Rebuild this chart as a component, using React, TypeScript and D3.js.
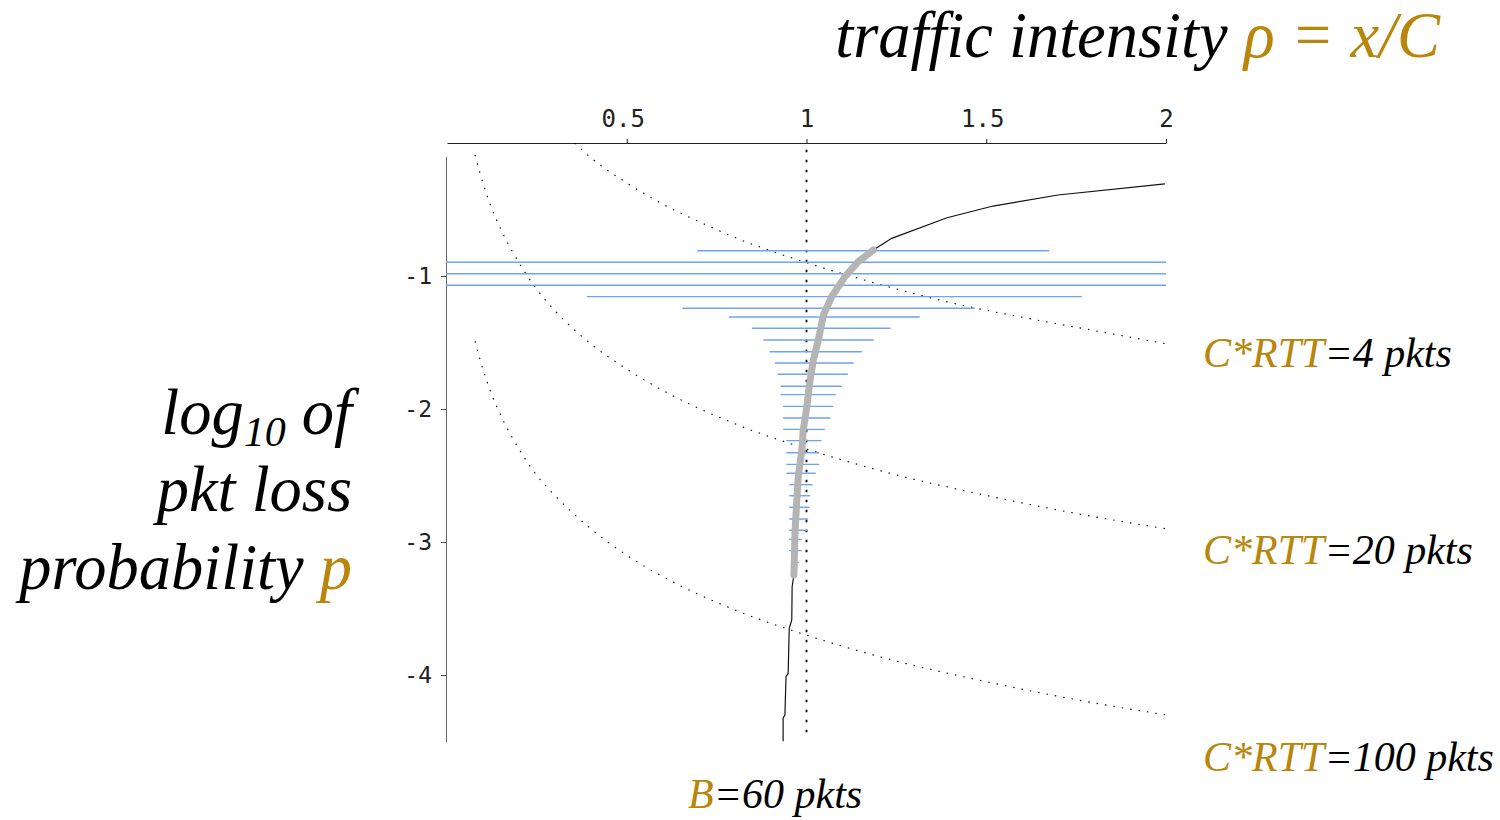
import React, { useEffect, useRef } from 'react'
import * as d3 from 'd3'

// axis ticks
const xTicks = [0.5, 1, 1.5, 2]
const yTicks = [-1, -2, -3, -4]

// dotted model curves, [rho, log10 p]
const curveCrtt4 = [
  [0.355, 0], [0.4, -0.11], [0.5, -0.3], [0.6, -0.46], [0.7, -0.59], [0.8, -0.71],
  [0.9, -0.81], [1.0, -0.9], [1.2, -1.06], [1.4, -1.2], [1.6, -1.31], [1.8, -1.41], [2.0, -1.51]
]
const curveCrtt20 = [
  [0.078, -0.09], [0.09, -0.21], [0.1, -0.3], [0.12, -0.46], [0.15, -0.65], [0.2, -0.9],
  [0.25, -1.1], [0.3, -1.26], [0.4, -1.51], [0.5, -1.7], [0.6, -1.86], [0.8, -2.11],
  [1.0, -2.3], [1.2, -2.46], [1.5, -2.65], [1.8, -2.81], [2.0, -2.9]
]
const curveCrtt100 = [
  [0.078, -1.49], [0.09, -1.61], [0.1, -1.7], [0.12, -1.86], [0.15, -2.05], [0.2, -2.3],
  [0.25, -2.5], [0.3, -2.65], [0.4, -2.9], [0.5, -3.1], [0.6, -3.26], [0.8, -3.51],
  [1.0, -3.7], [1.2, -3.86], [1.5, -4.05], [1.8, -4.21], [2.0, -4.3]
]

// simulated loss curve (thin black), [rho, log10 p]
const simCurve = [
  [1.997, -0.308], [1.7, -0.391], [1.519, -0.474], [1.391, -0.562], [1.237, -0.717],
  [1.186, -0.805], [1.144, -0.892], [1.107, -1.005], [1.07, -1.156], [1.047, -1.293],
  [1.033, -1.481], [1.019, -1.632], [1.01, -1.782], [1.001, -1.983], [0.991, -2.158],
  [0.987, -2.308], [0.977, -2.509], [0.973, -2.684], [0.968, -2.932], [0.965, -3.248],
  [0.96, -3.336], [0.959, -3.586], [0.952, -3.649], [0.949, -3.987], [0.943, -4.013],
  [0.94, -4.301], [0.935, -4.323], [0.935, -4.5]
]
// part of the simulated curve that is averaged (thick gray)
const meanRange = [-0.805, -3.248]

// horizontal spread bars
const barLogP = [
  -0.81, -0.897, -0.983, -1.07, -1.155, -1.243, -1.308, -1.393, -1.481, -1.569,
  -1.654, -1.739, -1.829, -1.892, -1.98, -2.068, -2.153, -2.238, -2.329, -2.416,
  -2.483, -2.569, -2.652, -2.739, -2.827, -2.912, -2.98, -3.065, -3.153
]
const barLo = [
  0.696, 0, 0, 0, 0.389, 0.655, 0.784, 0.848, 0.88, 0.897,
  0.912, 0.92, 0.928, 0.928, 0.935, 0.935, 0.935, 0.944, 0.944, 0.944,
  0.944, 0.952, 0.952, 0.952, 0.952, 0.952, 0.952, 0.952, 0.96
]
const barHi = [
  1.675, 2, 2, 2, 1.766, 1.468, 1.315, 1.234, 1.187, 1.154,
  1.131, 1.115, 1.098, 1.082, 1.074, 1.067, 1.051, 1.042, 1.035, 1.035,
  1.026, 1.017, 1.01, 1.008, 1.004, 1.004, 0.987, 0.987, 0.979
]

const gold = '#B8860B'
const serif = '"Liberation Serif", "Times New Roman", serif'
const mono = '"DejaVu Sans Mono", monospace'

export default function App() {
  const ref = useRef<SVGSVGElement>(null)

  useEffect(() => {
    const svg = d3.select(ref.current)
    svg.selectAll('*').remove()

    const x = d3.scaleLinear().domain([0, 2]).range([447, 1166])
    const y = d3.scaleLinear().domain([0, -4.5]).range([143, 741.5])

    svg.append('defs').append('clipPath').attr('id', 'plot-clip')
      .append('rect')
      .attr('x', x(0) - 1).attr('y', y(0))
      .attr('width', x(2) - x(0) + 1).attr('height', y(-4.5) - y(0))

    // top axis
    const xAxis = svg.append('g')
      .attr('transform', `translate(0,${y(0)})`)
      .call(d3.axisTop(x).tickValues(xTicks).tickSize(4).tickSizeOuter(0).tickPadding(12)
        .tickFormat(d => String(d)))
    xAxis.select('.domain').attr('stroke', '#222')
    xAxis.selectAll('.tick line').attr('stroke', '#222')
    xAxis.selectAll('text').attr('font-family', mono).attr('font-size', 24).attr('fill', '#222')
      .attr('dx', (d: any) => (d % 1 === 0 ? 0 : -4))

    // left axis
    const yAxisScale = d3.scaleLinear().domain([-0.1, -4.5]).range([y(-0.1), y(-4.5)])
    const yAxis = svg.append('g')
      .attr('transform', `translate(${x(0) - 1},0)`)
      .call(d3.axisLeft(yAxisScale).tickValues(yTicks).tickSize(5).tickSizeOuter(0).tickPadding(9)
        .tickFormat(d => String(d)))
    yAxis.select('.domain').attr('stroke', '#666')
    yAxis.selectAll('.tick line').attr('stroke', '#444')
    yAxis.selectAll('text').attr('font-family', mono).attr('font-size', 23).attr('fill', '#222')

    // rho = 1 reference
    svg.append('line')
      .attr('x1', x(1)).attr('x2', x(1))
      .attr('y1', y(-0.05)).attr('y2', y(-4.45))
      .attr('stroke', '#000').attr('stroke-width', 1.8)
      .attr('stroke-dasharray', '2.5 7.5')

    const curveLine = d3.line<number[]>()
      .x(d => x(d[0]))
      .y(d => y(d[1]))
      .curve(d3.curveMonotoneX)

    const plot = svg.append('g').attr('clip-path', 'url(#plot-clip)')

    const models = [curveCrtt4, curveCrtt20, curveCrtt100]
    for (let i = 0; i < models.length; ++i) {
      plot.append('path')
        .datum(models[i])
        .attr('fill', 'none')
        .attr('stroke', '#000')
        .attr('stroke-width', 1.1)
        .attr('stroke-dasharray', '1.5 7')
        .attr('d', curveLine)
    }

    // spread bars
    plot.selectAll('.bar')
      .data(barLogP)
      .enter()
      .append('line')
      .attr('class', 'bar')
      .attr('x1', (d, i) => x(barLo[i]) - (barLo[i] === 0 ? 2 : 0))
      .attr('x2', (d, i) => x(barHi[i]))
      .attr('y1', d => y(d))
      .attr('y2', d => y(d))
      .attr('stroke', '#6EA2F2')
      .attr('stroke-width', 1.4)

    const simLine = d3.line<number[]>()
      .x(d => x(d[0]))
      .y(d => y(d[1]))

    plot.append('path')
      .datum(simCurve)
      .attr('fill', 'none')
      .attr('stroke', '#111')
      .attr('stroke-width', 1.2)
      .attr('d', simLine)

    plot.append('path')
      .datum(simCurve.filter(d => d[1] <= meanRange[0] && d[1] >= meanRange[1]))
      .attr('fill', 'none')
      .attr('stroke', '#B4B4B4')
      .attr('stroke-width', 7)
      .attr('stroke-linecap', 'round')
      .attr('stroke-linejoin', 'round')
      .attr('d', simLine)

    // title
    const title = svg.append('text')
      .attr('x', 1440).attr('y', 57)
      .attr('text-anchor', 'end')
      .attr('font-family', serif).attr('font-style', 'italic').attr('font-size', 64.5)
    title.append('tspan').attr('fill', '#000').text('traffic intensity ')
    title.append('tspan').attr('fill', gold).text('ρ = x/C')

    // y label
    const yl = svg.append('g')
      .attr('font-family', serif).attr('font-style', 'italic').attr('font-size', 64.5)
      .attr('text-anchor', 'end')
    const l1 = yl.append('text').attr('x', 352).attr('y', 434)
    l1.append('tspan').text('log')
    l1.append('tspan').attr('font-size', 42).attr('dy', 12).text('10')
    l1.append('tspan').attr('dy', -12).text(' of')
    yl.append('text').attr('x', 352).attr('y', 511).text('pkt loss')
    const l3 = yl.append('text').attr('x', 352).attr('y', 589)
    l3.append('tspan').text('probability ')
    l3.append('tspan').attr('fill', gold).text('p')

    // curve labels
    const labels = [['4', 367], ['20', 564], ['100', 771]]
    for (let i = 0; i < labels.length; ++i) {
      const t = svg.append('text')
        .attr('x', 1203).attr('y', labels[i][1])
        .attr('font-family', serif).attr('font-style', 'italic').attr('font-size', 42)
      t.append('tspan').attr('fill', gold).text('C*RTT')
      t.append('tspan').attr('fill', '#000').text('=' + labels[i][0] + ' pkts')
    }

    const b = svg.append('text')
      .attr('x', 688).attr('y', 808)
      .attr('font-family', serif).attr('font-style', 'italic').attr('font-size', 42)
    b.append('tspan').attr('fill', gold).text('B')
    b.append('tspan').attr('fill', '#000').text('=60 pkts')
  }, [])

  return (
    <svg ref={ref} width={1500} height={820}
      style={{ position: 'absolute', left: 0, top: 0, background: '#fff' }} />
  )
}
